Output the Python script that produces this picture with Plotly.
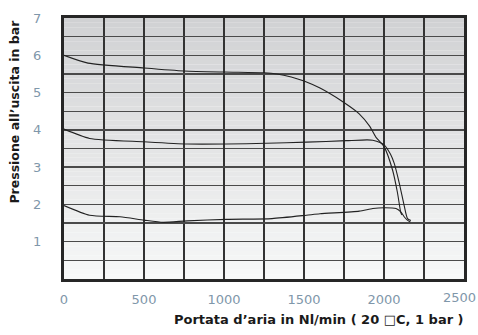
import plotly.graph_objects as go

# Data
flow_6 = [0, 150, 500, 750, 1000, 1250, 1330, 1420, 1500, 1600, 1740, 1845, 1910, 1950, 2000, 2053, 2084, 2105, 2112]
p_6 = [6.0, 5.79, 5.66, 5.58, 5.55, 5.53, 5.50, 5.42, 5.31, 5.12, 4.76, 4.43, 4.10, 3.80, 3.55, 2.93, 2.32, 1.78, 1.72]

flow_4 = [0, 160, 500, 770, 1015, 1265, 1515, 1765, 1895, 1930, 1975, 2005, 2040, 2064, 2095, 2126, 2147, 2168]
p_4 = [4.02, 3.77, 3.68, 3.62, 3.62, 3.64, 3.67, 3.71, 3.73, 3.72, 3.66, 3.58, 3.35, 3.10, 2.58, 1.97, 1.62, 1.57]

flow_2 = [0, 160, 350, 500, 620, 770, 1015, 1300, 1515, 1600, 1845, 1930, 2000, 2075, 2105, 2126, 2146, 2165]
p_2 = [1.97, 1.71, 1.67, 1.58, 1.52, 1.56, 1.60, 1.62, 1.71, 1.75, 1.82, 1.89, 1.91, 1.89, 1.80, 1.67, 1.58, 1.53]

x_ticks = [0, 500, 1000, 1500, 2000, 2500]
y_ticks = [1, 2, 3, 4, 5, 6, 7]

x_title = "Portata d\u2019aria in Nl/min ( 20 \u25a1C, 1 bar )"
y_title = "Pressione all\u2019uscita in bar"

fig = go.Figure()

# vertical gradient background (style only)
n = 56
top = (208, 209, 211)
bot = (247, 248, 248)
shapes = []
for i in range(n):
    t = (i + 0.5) / n
    c = tuple(int(round(bot[k] + (top[k] - bot[k]) * t)) for k in range(3))
    shapes.append(dict(type="rect", xref="paper", yref="paper",
                       x0=0, x1=1, y0=i / n, y1=(i + 1) / n,
                       fillcolor="rgb(%d,%d,%d)" % c, line=dict(width=0),
                       layer="below"))

for fx, py in [(flow_6, p_6), (flow_4, p_4), (flow_2, p_2)]:
    fig.add_trace(go.Scatter(x=fx, y=py, mode="lines",
                             line=dict(color="#222222", width=1.1, shape="spline", smoothing=0.6),
                             hoverinfo="skip", showlegend=False))

tick_font = dict(family="DejaVu Sans, sans-serif", size=13, color="#7f97aa")
x_title_font = dict(family="DejaVu Sans, sans-serif", size=13, color="#1a1a1a")
y_title_font = dict(family="DejaVu Sans, sans-serif", size=12.5, color="#1a1a1a")

fig.update_layout(
    width=478, height=335,
    margin=dict(l=64, r=13, t=11, b=56),
    paper_bgcolor="white",
    plot_bgcolor="rgba(0,0,0,0)",
    shapes=shapes,
    showlegend=False,
    xaxis=dict(range=[0, 2500], tickvals=x_ticks[:-1], ticktext=[str(v) for v in x_ticks[:-1]],
               showgrid=True, gridcolor="#333333", gridwidth=1.2,
               minor=dict(dtick=250, showgrid=True, gridcolor="#333333", gridwidth=1.2),
               showline=True, mirror=True, linecolor="#262626", linewidth=3,
               zeroline=False, ticks="", tickfont=tick_font, ticklabelstandoff=6,
               fixedrange=True),
    yaxis=dict(range=[0, 7], tickvals=y_ticks, ticktext=[str(v) for v in y_ticks],
               showgrid=True, gridcolor="#4a4a4a", gridwidth=1.4,
               minor=dict(dtick=0.5, showgrid=True, gridcolor="#4a4a4a", gridwidth=1.4),
               showline=True, mirror=True, linecolor="#262626", linewidth=3,
               zeroline=False, ticks="", tickfont=tick_font, ticklabelstandoff=17,
               ticklabeloverflow="allow", fixedrange=True),
    annotations=[
        # last x tick label, kept inside the figure edge like in the reference
        dict(text=str(x_ticks[-1]), xref="x", yref="paper",
             x=x_ticks[-1], y=-(298 - 279) / 268, xanchor="right", yanchor="middle",
             xshift=14, showarrow=False, font=tick_font),
        dict(text="<b>" + x_title + "</b>", xref="paper", yref="paper",
             x=(467 - 64) / 401, y=-(321 - 279) / 268, xanchor="right", yanchor="middle",
             showarrow=False, font=x_title_font),
        dict(text="<b>" + y_title + "</b>", xref="paper", yref="paper",
             x=(14 - 64) / 401, y=(279 - 107) / 268, xanchor="center", yanchor="middle",
             textangle=-90, showarrow=False, font=y_title_font),
    ],
)

fig.write_html("out.html",
               config={"displayModeBar": False, "staticPlot": True},
               post_script="document.body.style.margin='0';document.body.style.overflow='hidden';")
